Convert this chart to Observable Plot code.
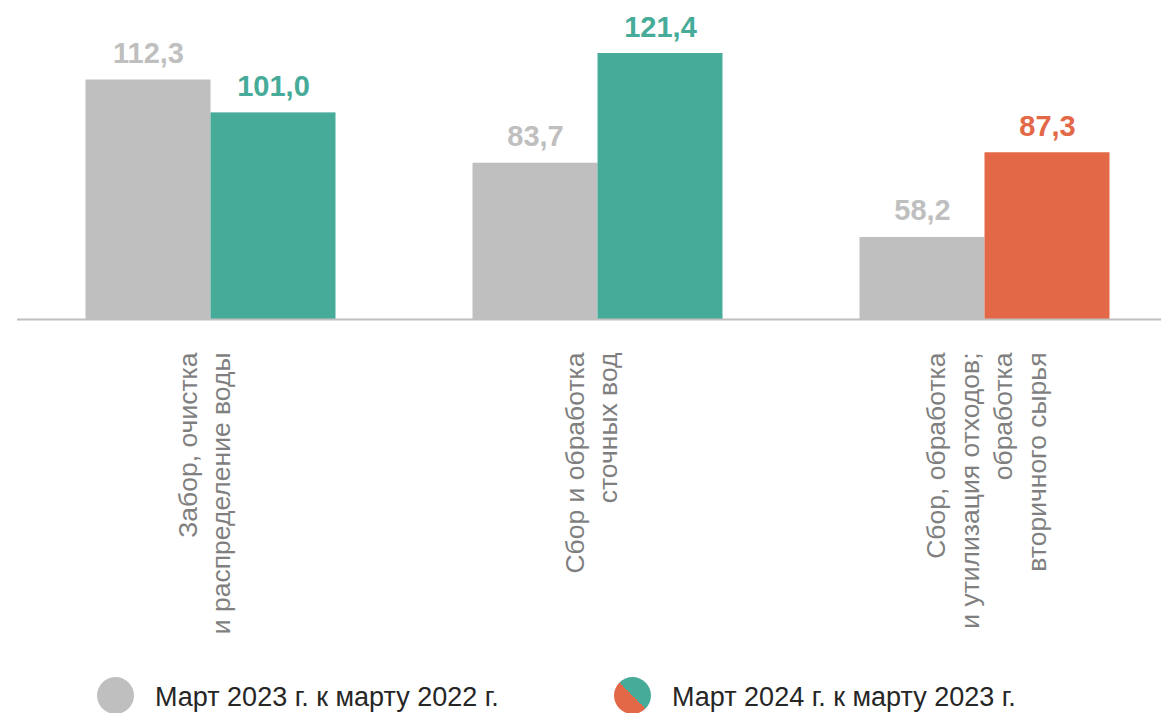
<!DOCTYPE html>
<html>
<head>
<meta charset="utf-8">
<script src="https://cdn.jsdelivr.net/npm/d3@7"></script>
<script src="https://cdn.jsdelivr.net/npm/@observablehq/plot@0.6"></script>
<style>
  html, body { margin: 0; padding: 0; background: #fff; overflow: hidden; }
  body { font-family: "Liberation Sans", Arial, sans-serif; width: 1161px; }
  #legend { position: relative; height: 53px; width: 1161px; }
  .sw { position: absolute; width: 37px; height: 37px; border-radius: 50%; top: 17px; }
  .lt { position: absolute; top: 22px; font-size: 27px; color: #262626; white-space: nowrap; line-height: normal; }
</style>
</head>
<body>
<div id="chart"></div>
<div id="legend"></div>
<script>
// ---- data ----
const groupKeys = ["water", "sewage", "waste"];
const groupLabels = [
  "Забор, очистка\nи распределение воды",
  "Сбор и обработка\nсточных вод",
  "Сбор, обработка\nи утилизация отходов;\nобработка\nвторичного сырья"
];
const seriesNames = ["Март 2023 г. к марту 2022 г.", "Март 2024 г. к марту 2023 г."];
const values2023 = [112.3, 83.7, 58.2];
const values2024 = [101.0, 121.4, 87.3];
const colors2024 = ["#46AB98", "#46AB98", "#E36847"];
const color2023 = "#BFBFBF";

const data = [];
groupKeys.forEach((g, i) => {
  data.push({group: g, series: seriesNames[0], value: values2023[i], color: color2023});
  data.push({group: g, series: seriesNames[1], value: values2024[i], color: colors2024[i]});
});
const labelOf = Object.fromEntries(groupKeys.map((k, i) => [k, groupLabels[i]]));
const fmt = v => v.toFixed(1).replace(".", ",");

const labelStyle = {
  text: d => labelOf[d], frameAnchor: "bottom", rotate: -90,
  textAnchor: "end", lineAnchor: "middle", fontSize: 26.5, lineHeight: 1.265,
  fill: "#7F7F7F", dy: 33
};

const chart = Plot.plot({
  width: 1161,
  height: 660,
  marginTop: 28,
  marginBottom: 341,
  marginLeft: 16.5,
  marginRight: 0,
  style: {fontFamily: '"Liberation Sans", Arial, sans-serif', overflow: "visible"},
  fx: {domain: groupKeys, range: [16.5, 1177.5], padding: 0, axis: null},
  x: {domain: seriesNames, paddingInner: 0, paddingOuter: 0.548, axis: null},
  y: {domain: [30, 130], axis: null},
  marks: [
    Plot.barY(data, {fx: "group", x: "series", y1: 30, y2: "value", fill: "color"}),
    Plot.ruleY([30], {stroke: "#BFBFBF", strokeWidth: 2}),
    Plot.text(data, {
      fx: "group", x: "series", y: "value", text: d => fmt(d.value),
      fill: "color", fontWeight: "bold", fontSize: 29, lineAnchor: "bottom", dy: -17
    }),
    Plot.text(groupKeys.slice(0, 2), {fx: d => d, ...labelStyle, dx: -8}),
    Plot.text(groupKeys.slice(2), {fx: d => d, ...labelStyle})
  ]
});
document.getElementById("chart").appendChild(chart);

// legend
const legend = document.getElementById("legend");
const items = [
  {name: seriesNames[0], bg: color2023, sx: 97, tx: 155},
  {name: seriesNames[1], bg: `linear-gradient(to top right, ${colors2024[2]} 50%, ${colors2024[0]} 50%)`, sx: 614, tx: 672}
];
items.forEach(it => {
  const s = document.createElement("div");
  s.className = "sw";
  s.style.left = it.sx + "px";
  s.style.background = it.bg;
  legend.appendChild(s);
  const t = document.createElement("div");
  t.className = "lt";
  t.style.left = it.tx + "px";
  t.textContent = it.name;
  legend.appendChild(t);
});
</script>
</body>
</html>
